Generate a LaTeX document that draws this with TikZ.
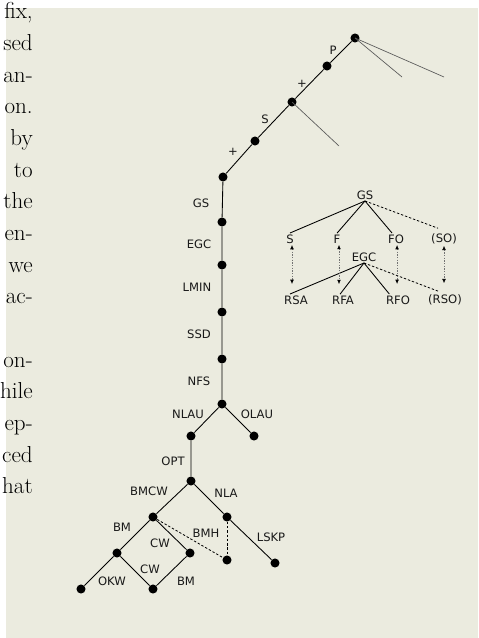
\documentclass[tikz,border=0pt]{standalone}
\usepackage{fontspec}
\newfontfamily\labelfont{DejaVu Sans}
\usetikzlibrary{arrows.meta}

\definecolor{paper}{RGB}{235,235,223}

\begin{document}
\begin{tikzpicture}[x=0.75pt,y=-0.75pt,
  dot/.style={circle,fill=black,inner sep=0pt,minimum size=6.8pt},
  lbl/.style={font=\labelfont\fontsize{8.7}{10}\selectfont,inner sep=1pt,text=black!90},
  body/.style={font=\fontsize{17.3}{20}\selectfont,anchor=base east,inner sep=0pt},
  edge/.style={line width=0.65pt},
  stub/.style={line width=0.5pt,black!65},
  hint/.style={line width=0.6pt,dash pattern=on 1.8pt off 1.4pt},
  biarrow/.style={line width=0.5pt,black!55,dash pattern=on 1pt off 1pt,
    {Latex[length=3.2pt,width=2.8pt,black]}-{Latex[length=3.2pt,width=2.8pt,black]}}
]
\useasboundingbox (0,0) rectangle (478,638);
\fill[paper] (6,8) rectangle (478,638);

% running text of the page, cut at the left margin
\foreach \w [count=\i from 0] in {{fix,},sed,an-,on.,by,to,the,en-,we,ac-}
  \node[body] (txt\i) at (33,{19+31.65*\i}) {\w};
\foreach \w [count=\i from 11] in {on-,hile,ep-,ced,hat}
  \node[body] (txt\i) at (33,{19+31.65*\i}) {\w};

% ---- upper chain ----
\node[dot] (t0) at (355,38) {};
\node[dot] (t1) at (327,66) {};
\node[dot] (t2) at (292,102) {};
\node[dot] (t3) at (255,141) {};
\node[dot] (t4) at (223,177) {};
\coordinate (s1) at (402,77);
\coordinate (s2) at (444,77);
\coordinate (s3) at (339,146);
\draw[edge] (t0) -- (t1) -- (t2) -- (t3) -- (t4);
\draw[stub] (t0.center) -- (s1);
\draw[stub] (t0.center) -- (s2);
\draw[stub] (t2.center) -- (s3);
\node[lbl] (lP) at (333,50) {P};
\node[lbl] (lp1) at (302,84) {+};
\node[lbl] (lS) at (265,119) {S};
\node[lbl] (lp2) at (233,152) {+};

% ---- vertical chain ----
\node[dot] (g1) at (222,222) {};
\node[dot] (g2) at (222,265) {};
\node[dot] (g3) at (222,312) {};
\node[dot] (g4) at (222,359) {};
\node[dot] (g5) at (222,404) {};
\draw[edge] (t4) -- (g1) -- (g2) -- (g3) -- (g4) -- (g5);
\node[lbl] (lGS) at (201,203) {GS};
\node[lbl] (lEGC) at (199,244) {EGC};
\node[lbl] (lLMIN) at (197,287) {LMIN};
\node[lbl] (lSSD) at (199,334) {SSD};
\node[lbl] (lNFS) at (199,381) {NFS};

% ---- lower tree ----
\node[dot] (n1) at (191,436) {};
\node[dot] (n2) at (254,436) {};
\node[dot] (n3) at (191,481) {};
\node[dot] (b1) at (153,517) {};
\node[dot] (b2) at (227,517) {};
\node[dot] (b3) at (117,553) {};
\node[dot] (b4) at (190,553) {};
\node[dot] (b5) at (227,560) {};
\node[dot] (b6) at (275,563) {};
\node[dot] (b7) at (81,589) {};
\node[dot] (b8) at (153,589) {};
\draw[edge] (g5) -- (n1) -- (n3) -- (b1) -- (b3) -- (b7);
\draw[edge] (g5) -- (n2);
\draw[edge] (n3) -- (b2) -- (b6);
\draw[edge] (b1) -- (b4) -- (b8) -- (b3);
\draw[hint] (b1) -- (b5);
\draw[hint] (b2) -- (b5);
\node[lbl] (lNLAU) at (188,414) {NLAU};
\node[lbl] (lOLAU) at (257,414) {OLAU};
\node[lbl] (lOPT) at (173,461) {OPT};
\node[lbl] (lBMCW) at (149,491) {BMCW};
\node[lbl] (lNLA) at (226,493) {NLA};
\node[lbl] (lBM1) at (122,527) {BM};
\node[lbl] (lBMH) at (206,533) {BMH};
\node[lbl] (lLSKP) at (271,537) {LSKP};
\node[lbl] (lCW1) at (160,543) {CW};
\node[lbl] (lCW2) at (150,569) {CW};
\node[lbl] (lOKW) at (112,581) {OKW};
\node[lbl] (lBM2) at (186,581) {BM};

% ---- side diagram ----
\node[lbl] (GS) at (365,195) {GS};
\node[lbl] (S) at (290,239) {S};
\node[lbl] (F) at (337,239) {F};
\node[lbl] (FO) at (396,239) {FO};
\node[lbl] (SO) at (444,239) {(SO)};
\node[lbl] (EGC) at (364,257) {EGC};
\node[lbl] (RSA) at (296,300) {RSA};
\node[lbl] (RFA) at (343,300) {RFA};
\node[lbl] (RFO) at (398,300) {RFO};
\node[lbl] (RSO) at (445,300) {(RSO)};
\draw[edge] (GS.south) -- (S.north);
\draw[edge] (GS.south) -- (F.north);
\draw[edge] (GS.south) -- ([xshift=-3pt]FO.north);
\draw[hint] (GS.south) -- ([xshift=-4.5pt,yshift=3pt]SO.north);
\draw[edge] (EGC.south) -- ([xshift=-4.5pt]RSA.north);
\draw[edge] (EGC.south) -- ([xshift=-2.2pt]RFA.north);
\draw[edge] (EGC.south) -- ([xshift=-6.5pt]RFO.north);
\draw[hint] (EGC.south) -- ([xshift=-5pt,yshift=1.5pt]RSO.north);
\foreach \a/\b/\dx in {S/RSA/1.5pt,F/RFA/1.5pt,FO/RFO/0.8pt,SO/RSO/0pt}
  \draw[biarrow,shorten >=7.5pt] ([xshift=\dx]\a.south) -- ([xshift=\dx]\a.south |- \b.north);
\end{tikzpicture}
\end{document}
